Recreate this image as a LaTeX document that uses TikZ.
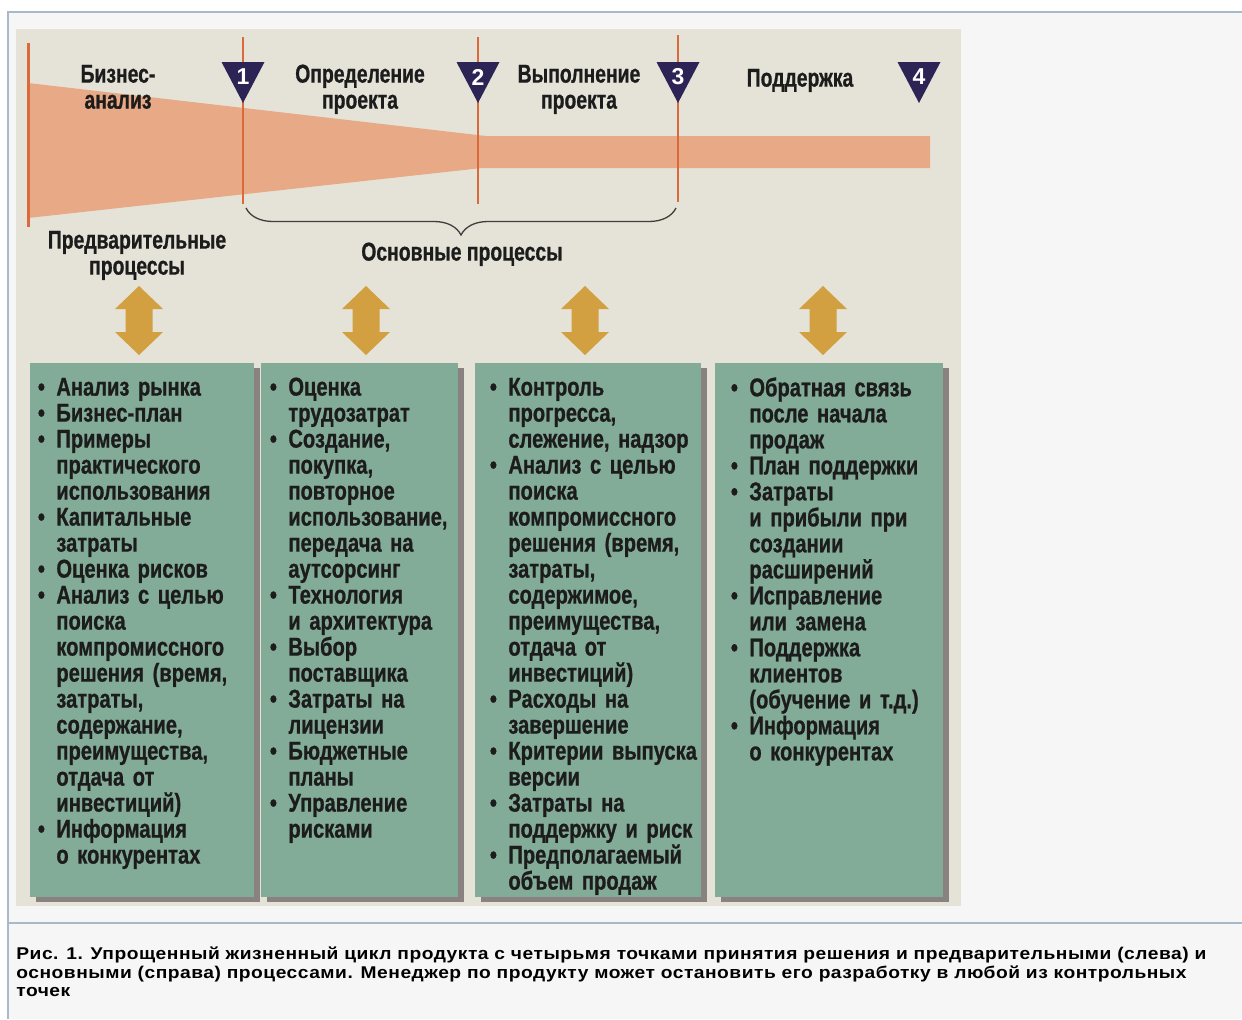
\documentclass[tikz,border=0pt]{standalone}
\usepackage{fontspec}
\setmainfont{Liberation Sans}
\newfontfamily\condfont[FakeStretch=0.78,FakeBold=0.8]{Liberation Sans}
\newfontfamily\lblfont[FakeStretch=0.75,FakeBold=0.8]{Liberation Sans}
\newfontfamily\capfont[FakeStretch=1.13,LetterSpace=3]{Liberation Sans}
\usetikzlibrary{positioning,fit,shadows,decorations.pathreplacing}

\definecolor{framebg}{HTML}{F6F6F6}
\definecolor{frameline}{HTML}{A9B9C9}
\definecolor{paper}{HTML}{E5E3D7}
\definecolor{funnel}{HTML}{E8AA86}
\definecolor{gateline}{HTML}{DA6A3A}
\definecolor{gate}{HTML}{2D2456}
\definecolor{gold}{HTML}{D2A040}
\definecolor{boxgreen}{HTML}{83AC98}
\definecolor{shadowgray}{HTML}{8A8280}
\definecolor{ink}{HTML}{1C1C1C}

\newlength{\bulw}
\setlength{\bulw}{9.25pt}
\newcommand{\bitem}[1]{\hangindent=\bulw\hangafter=1\noindent\strut\makebox[\bulw][l]{\textbullet}#1\par}

\begin{document}
\begin{tikzpicture}
		[x=0.5pt, y=-0.5pt,
		frame/.style ={draw=frameline, line width=1pt},
		gatel/.style ={draw=gateline, line width=1.3pt},
		panel/.style ={inner sep=0pt, fill=boxgreen, general shadow={fill=shadowgray, shadow xshift=3pt, shadow yshift=-2.5pt}},
		boxtxt/.style ={anchor=north west, inner sep=0pt, text width=130pt, align=left, text=ink,
		font={\condfont\bfseries\fontsize{12.9}{13}\selectfont\lineskiplimit=-100pt}},
		phaselbl/.style ={anchor=north, inner sep=0pt, align=center, text=ink,
		font={\lblfont\bfseries\fontsize{12.9}{13}\selectfont\lineskiplimit=-100pt}},
		gatenum/.style ={inner sep=0pt, text=white, font=\bfseries\fontsize{11.5}{11.5}\selectfont},
		brace/.style ={draw=ink!85, line width=0.65pt, decorate, decoration={brace, mirror, amplitude=13.5pt}},
		captxt/.style ={anchor=north west, inner sep=0pt, align=left, text=black,
		font={\capfont\bfseries\fontsize{8.5}{8.75}\selectfont}},
		]

		\useasboundingbox (0,0) rectangle (1242,1019);

		% page frame and panel
		\fill[framebg] (8,12) rectangle (1242,1019);
		\draw[frame] (1242,12) -- (8,12) -- (8,1019);
		\draw[frame] (8,923) -- (1242,923);
		\fill[paper] (16,29) rectangle (961,906);

		% funnel
		\fill[funnel] (28,83) -- (486,136) -- (930,136) -- (930,168) -- (482,168) -- (28,218) -- cycle;

		% decision points
		\draw[gatel, line width=1.5pt] (28,43) -- (28,227);
		\foreach \x/\t/\b [count=\i] in {243/37/204, 478/37/204, 678/35/202}
			\draw[gatel] (\x,\t) -- (\x,\b) coordinate (g\i);
		\foreach \x [count=\i] in {243,478,678,919} {
			\fill[gate] (\x-21.5,62) -- (\x+21.5,62) -- (\x,103) -- cycle;
			\draw (\x,77) node[gatenum] (n\i) {\i};
		}

		\draw (118,64) node[phaselbl] (P1) {\strut Бизнес-\\анализ};
		\draw (360,64) node[phaselbl] (P2) {\strut Определение\\проекта};
		\draw (579,64) node[phaselbl] (P3) {\strut Выполнение\\проекта};
		\draw (800,68) node[phaselbl] (P4) {\strut Поддержка};

		% processes
		\coordinate (br1) at (246,208);
		\coordinate (br3) at (676,208);
		\draw[brace] (br1) -- (br3);
		\draw (137,230) node[phaselbl] (pre) {\strut Предварительные\\процессы};
		\draw (462,242) node[phaselbl] (main) {\strut Основные процессы};

		\foreach \x in {139,366,585,823}
			\fill[gold] (\x,286) -- ++(24,23) -- ++(-10.5,0) -- ++(0,23) -- ++(10.5,0) -- (\x,355)
				-- ++(-24,-23) -- ++(10.5,0) -- ++(0,-23) -- ++(-10.5,0) -- cycle;

		\node[panel, fit={(30,363) (254,897)}] (B1) {};
		\node[panel, fit={(261,363) (458,897)}] (B2) {};
		\node[panel, fit={(475,363) (701,897)}] (B3) {};
		\node[panel, fit={(715,363) (943,897)}] (B4) {};

		\draw (37.5,377) node[boxtxt] (T1) {%
			\bitem{Анализ рынка}%
			\bitem{Бизнес-план}%
			\bitem{Примеры\newline практического\newline использования}%
			\bitem{Капитальные\newline затраты}%
			\bitem{Оценка рисков}%
			\bitem{Анализ с~целью\newline поиска\newline компромиссного\newline решения (время,\newline затраты,\newline содержание,\newline преимущества,\newline отдача от\newline инвестиций)}%
			\bitem{Информация\newline о~конкурентах}};
		\draw (269.5,377) node[boxtxt] (T2) {%
			\bitem{Оценка\newline трудозатрат}%
			\bitem{Создание,\newline покупка,\newline повторное\newline использование,\newline передача на\newline аутсорсинг}%
			\bitem{Технология\newline и~архитектура}%
			\bitem{Выбор\newline поставщика}%
			\bitem{Затраты на\newline лицензии}%
			\bitem{Бюджетные\newline планы}%
			\bitem{Управление\newline рисками}};
		\draw (489.5,377) node[boxtxt] (T3) {%
			\bitem{Контроль\newline прогресса,\newline слежение, надзор}%
			\bitem{Анализ с~целью\newline поиска\newline компромиссного\newline решения (время,\newline затраты,\newline содержимое,\newline преимущества,\newline отдача от\newline инвестиций)}%
			\bitem{Расходы на\newline завершение}%
			\bitem{Критерии выпуска\newline версии}%
			\bitem{Затраты на\newline поддержку и~риск}%
			\bitem{Предполагаемый\newline объем продаж}};
		\draw (730.5,377) node[boxtxt] (T4) {%
			\bitem{Обратная связь\newline после начала\newline продаж}%
			\bitem{План поддержки}%
			\bitem{Затраты\newline и~прибыли при\newline создании\newline расширений}%
			\bitem{Исправление\newline или замена}%
			\bitem{Поддержка\newline клиентов\newline (обучение и~т.д.)}%
			\bitem{Информация\newline о~конкурентах}};

		% caption
		\draw (16,946) node[captxt] (cap) {\strut Рис. 1. Упрощенный жизненный цикл продукта с четырьмя точками принятия решения и предварительными (слева) и\\основными (справа) процессами. Менеджер по продукту может остановить его разработку в любой из контрольных\\точек};
	\end{tikzpicture}
\end{document}
